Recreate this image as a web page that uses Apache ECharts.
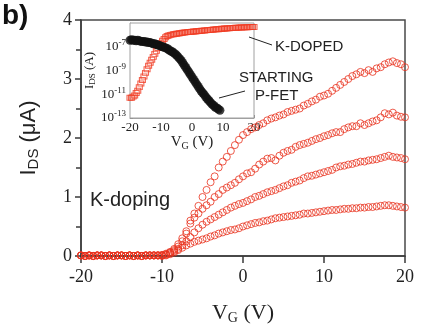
<!DOCTYPE html>
<html>
<head>
<meta charset="utf-8">
<script src="https://cdn.jsdelivr.net/npm/echarts@6/dist/echarts.min.js"></script>
<style>
  html, body { margin: 0; padding: 0; background: #fff; }
  #chart { width: 424px; height: 334px; }
</style>
</head>
<body>
<div id="chart"></div>
<script>
// gate voltage grid (V), 0.5 V steps
const vgGrid = [-20,-19.5,-19,-18.5,-18,-17.5,-17,-16.5,-16,-15.5,-15,-14.5,-14,-13.5,-13,-12.5,-12,-11.5,-11,-10.5,
  -10,-9.5,-9,-8.5,-8,-7.5,-7,-6.5,-6,-5.5,-5,-4.5,-4,-3.5,-3,-2.5,-2,-1.5,-1,-0.5,
  0,0.5,1,1.5,2,2.5,3,3.5,4,4.5,5,5.5,6,6.5,7,7.5,8,8.5,9,9.5,
  10,10.5,11,11.5,12,12.5,13,13.5,14,14.5,15,15.5,16,16.5,17,17.5,18,18.5,19,19.5,20];

// main panel: off state (-20 .. -10.5 V), shared by all doping steps
const idsOff = [0.01,0,0.01,0,0.01,0.01,0,0.01,0,0.01,0.01,0,0.01,0,0.01,0,0.01,0.01,0.01,0.01];

// main panel: on state (-10 .. 20 V), one array per doping step (uA)
const ids1 = [0.02,0.04,0.07,0.12,0.2,0.3,0.42,0.6,0.72,0.85,
  1.0,1.12,1.25,1.35,1.5,1.6,1.68,1.78,1.88,1.97,
  2.05,2.1,2.15,2.18,2.22,2.25,2.3,2.33,2.35,2.38,
  2.4,2.44,2.46,2.48,2.5,2.55,2.58,2.62,2.65,2.7,
  2.72,2.75,2.8,2.85,2.9,2.95,3.0,3.05,3.08,3.12,
  3.1,3.15,3.12,3.18,3.2,3.25,3.28,3.3,3.27,3.25,
  3.2];
const ids2 = [0.01,0.03,0.06,0.1,0.16,0.25,0.38,0.55,0.65,0.72,
  0.8,0.86,0.92,1.0,1.05,1.12,1.16,1.2,1.24,1.3,
  1.35,1.4,1.42,1.48,1.55,1.6,1.65,1.66,1.62,1.7,
  1.75,1.78,1.8,1.85,1.88,1.9,1.92,1.95,1.98,2.0,
  2.03,2.05,2.08,2.1,2.1,2.15,2.18,2.2,2.2,2.25,
  2.22,2.25,2.28,2.3,2.35,2.42,2.4,2.43,2.38,2.36,
  2.35];
const ids3 = [0.01,0.02,0.05,0.08,0.12,0.18,0.25,0.32,0.4,0.47,
  0.53,0.58,0.62,0.66,0.7,0.74,0.78,0.82,0.85,0.88,
  0.9,0.93,0.96,1.0,1.02,1.05,1.08,1.1,1.12,1.15,
  1.18,1.2,1.24,1.26,1.28,1.32,1.35,1.36,1.38,1.4,
  1.42,1.44,1.46,1.5,1.52,1.53,1.55,1.56,1.58,1.6,
  1.6,1.62,1.63,1.64,1.66,1.68,1.7,1.68,1.67,1.66,
  1.64];
const ids4 = [0.0,0.01,0.03,0.06,0.1,0.14,0.18,0.21,0.24,0.26,
  0.28,0.3,0.33,0.35,0.38,0.4,0.42,0.44,0.45,0.47,
  0.5,0.52,0.54,0.56,0.57,0.59,0.6,0.62,0.64,0.65,
  0.66,0.67,0.68,0.69,0.7,0.72,0.72,0.73,0.74,0.75,
  0.76,0.77,0.78,0.78,0.79,0.8,0.8,0.81,0.81,0.82,
  0.82,0.83,0.83,0.84,0.85,0.86,0.86,0.85,0.84,0.83,
  0.82];

// inset: log10(I_DS / A), K-doped over full grid
const kDopedExp = [-11.3,-11.3,-11.2,-11.1,-10.9,-10.7,-10.4,-10.1,-9.8,-9.5,
  -9.2,-8.9,-8.6,-8.35,-8.1,-7.85,-7.6,-7.35,-7.1,-6.9,
  -6.7,-6.5,-6.35,-6.2,-6.1,-6.05,-6.0,-5.98,-5.95,-5.93,
  -5.9,-5.88,-5.86,-5.84,-5.82,-5.8,-5.79,-5.77,-5.76,-5.75,
  -5.74,-5.72,-5.71,-5.7,-5.68,-5.67,-5.65,-5.64,-5.63,-5.62,
  -5.6,-5.59,-5.58,-5.57,-5.55,-5.54,-5.53,-5.52,-5.5,-5.49,
  -5.48,-5.47,-5.46,-5.45,-5.44,-5.43,-5.42,-5.41,-5.4,-5.4,
  -5.39,-5.38,-5.38,-5.37,-5.37,-5.36,-5.36,-5.35,-5.35,-5.35,
  -5.34];
// inset: starting p-FET, -20 .. 9 V
const pfetExp = [-6.45,-6.4,-6.45,-6.45,-6.5,-6.45,-6.5,-6.55,-6.55,-6.55,
  -6.6,-6.6,-6.65,-6.65,-6.7,-6.75,-6.75,-6.8,-6.85,-6.9,
  -6.95,-7.0,-7.05,-7.1,-7.15,-7.25,-7.35,-7.4,-7.5,-7.6,
  -7.7,-7.85,-8.0,-8.15,-8.35,-8.55,-8.75,-8.95,-9.15,-9.35,
  -9.55,-9.75,-9.95,-10.15,-10.35,-10.55,-10.75,-10.9,-11.05,-11.25,
  -11.4,-11.55,-11.7,-11.85,-11.95,-12.1,-12.15,-12.25,-12.35];

const xTicks = [-20, -10, 0, 10, 20];
const yTicks = [0, 1, 2, 3, 4];

const RED = '#e8321e';
const SERIF = '"Liberation Serif", "DejaVu Serif", serif';
const SANS = '"Liberation Sans", Arial, sans-serif';

const vgOff = vgGrid.slice(0, 20);
const vgOn = vgGrid.slice(20);

function mainSeries(ids) {
  const pts = vgOff.map((v, i) => [v, idsOff[i]]).concat(vgOn.map((v, i) => [v, ids[i]]));
  return {
    type: 'scatter',
    xAxisIndex: 0, yAxisIndex: 0,
    symbol: 'circle',
    symbolSize: 7,
    clip: false,
    itemStyle: { color: 'rgba(0,0,0,0)', borderColor: RED, borderWidth: 1 },
    data: pts
  };
}

let chart = echarts.init(document.getElementById('chart'));
chart.setOption({
  animation: false,
  backgroundColor: '#fff',
  grid: [
    { left: 81, top: 20, right: 19, bottom: 78, show: true, borderColor: '#4a4a4a', borderWidth: 1.5 },
    { left: 130, top: 23, right: 170, bottom: 216, show: true, backgroundColor: '#fff', borderColor: '#a0a0a0', borderWidth: 1, z: 5 }
  ],
  xAxis: [
    {
      gridIndex: 0, type: 'value', min: -20, max: 20, interval: 10,
      name: '{i|V}{s|G}{i| (V)}', nameLocation: 'middle', nameGap: 45,
      nameTextStyle: {
        rich: {
          i: { fontFamily: SERIF, fontSize: 22, color: '#222' },
          s: { fontFamily: SERIF, fontSize: 14, color: '#222', padding: [10, 0, 0, 0] }
        }
      },
      axisLine: { onZero: false, lineStyle: { color: '#3a3a3a', width: 1.5 } },
      axisTick: { inside: false, length: 7, lineStyle: { color: '#3a3a3a', width: 1.5 } },
      axisLabel: { fontFamily: SERIF, fontSize: 18, color: '#222', margin: 12,
        formatter: v => xTicks.indexOf(v) >= 0 ? String(v) : '' },
      splitLine: { show: false }
    },
    {
      gridIndex: 1, type: 'value', min: -20, max: 20, interval: 10,
      name: '{i|V}{s|G}{i| (V)}', nameLocation: 'middle', nameGap: 16,
      nameTextStyle: {
        rich: {
          i: { fontFamily: SERIF, fontSize: 15, color: '#222' },
          s: { fontFamily: SERIF, fontSize: 10, color: '#222', padding: [7, 0, 0, 0] }
        }
      },
      axisLine: { onZero: false, lineStyle: { color: '#a0a0a0', width: 1 } },
      axisTick: { inside: true, length: 3, lineStyle: { color: '#888' } },
      axisLabel: { fontFamily: SERIF, fontSize: 13, color: '#222', margin: 3 },
      splitLine: { show: false }
    }
  ],
  yAxis: [
    {
      gridIndex: 0, type: 'value', min: 0, max: 4, interval: 1,
      name: '{i|I}{s|DS}{i| (μA)}', nameLocation: 'middle', nameGap: 40, nameRotate: 90,
      nameTextStyle: {
        rich: {
          i: { fontFamily: SANS, fontSize: 22, color: '#222' },
          s: { fontFamily: SANS, fontSize: 15, color: '#222', padding: [10, 0, 0, 0] }
        }
      },
      axisLine: { show: true, onZero: false, lineStyle: { color: '#3a3a3a', width: 1.5 } },
      axisTick: { show: true, inside: false, length: 6, lineStyle: { color: '#3a3a3a', width: 1.5 } },
      minorTick: { show: true, splitNumber: 2, length: 5, lineStyle: { color: '#3a3a3a', width: 1.5 } },
      axisLabel: { fontFamily: SERIF, fontSize: 18, color: '#222', margin: 9,
        formatter: v => yTicks.indexOf(v) >= 0 ? String(v) : '' },
      splitLine: { show: false }
    },
    {
      gridIndex: 1, type: 'log', logBase: 10, min: 1e-13, max: 1e-5,
      name: '{i|I}{s|DS}{i| (A)}', nameLocation: 'middle', nameGap: 31, nameRotate: 90,
      nameTextStyle: {
        rich: {
          i: { fontFamily: SERIF, fontSize: 13, color: '#222' },
          s: { fontFamily: SERIF, fontSize: 9, color: '#222', padding: [6, 0, 0, 0] }
        }
      },
      axisLine: { show: true, onZero: false, lineStyle: { color: '#a0a0a0', width: 1 } },
      axisTick: { show: true, inside: true, length: 3, lineStyle: { color: '#888' } },
      axisLabel: {
        margin: 4,
        formatter: v => {
          const e = Math.round(Math.log10(v));
          if (e > -7 || Math.abs(e) % 2 === 0) return '';
          return '{b|10}{e|' + e + '}';
        },
        rich: {
          b: { fontFamily: SERIF, fontSize: 13, color: '#222' },
          e: { fontFamily: SERIF, fontSize: 9, color: '#222', padding: [0, 0, 8, 0] }
        }
      },
      splitLine: { show: false }
    }
  ],
  series: [
    mainSeries(ids1),
    mainSeries(ids2),
    mainSeries(ids3),
    mainSeries(ids4),
    {
      type: 'scatter', xAxisIndex: 1, yAxisIndex: 1, z: 6,
      symbol: 'rect', symbolSize: [6, 5],
      itemStyle: { color: 'rgba(0,0,0,0)', borderColor: '#f03c24', borderWidth: 1 },
      data: vgGrid.map((v, i) => [v, Math.pow(10, kDopedExp[i])])
    },
    {
      type: 'scatter', xAxisIndex: 1, yAxisIndex: 1, z: 6,
      symbol: 'circle', symbolSize: 9,
      itemStyle: { color: '#111' },
      data: pfetExp.map((e, i) => [vgGrid[i], Math.pow(10, e)])
    }
  ],
  graphic: [
    { type: 'text', x: 2, y: 16, z: 10, style: { text: 'b)', fill: '#111', font: 'bold 28px ' + SANS, verticalAlign: 'middle' } },
    { type: 'text', x: 90, y: 200, z: 10, style: { text: 'K-doping', fill: '#222', font: '20px ' + SANS, verticalAlign: 'middle' } },
    { type: 'text', x: 275, y: 47, z: 10, style: { text: 'K-DOPED', fill: '#222', font: '15px ' + SANS, verticalAlign: 'middle' } },
    { type: 'text', x: 239, y: 78, z: 10, style: { text: 'STARTING', fill: '#222', font: '15px ' + SANS, verticalAlign: 'middle' } },
    { type: 'text', x: 255, y: 96, z: 10, style: { text: 'P-FET', fill: '#222', font: '15px ' + SANS, verticalAlign: 'middle' } },
    { type: 'line', z: 10, shape: { x1: 249, y1: 37, x2: 272, y2: 45 }, style: { stroke: '#222', lineWidth: 1 } },
    { type: 'line', z: 10, shape: { x1: 219, y1: 98, x2: 245, y2: 91 }, style: { stroke: '#222', lineWidth: 1 } }
  ]
});
</script>
</body>
</html>
